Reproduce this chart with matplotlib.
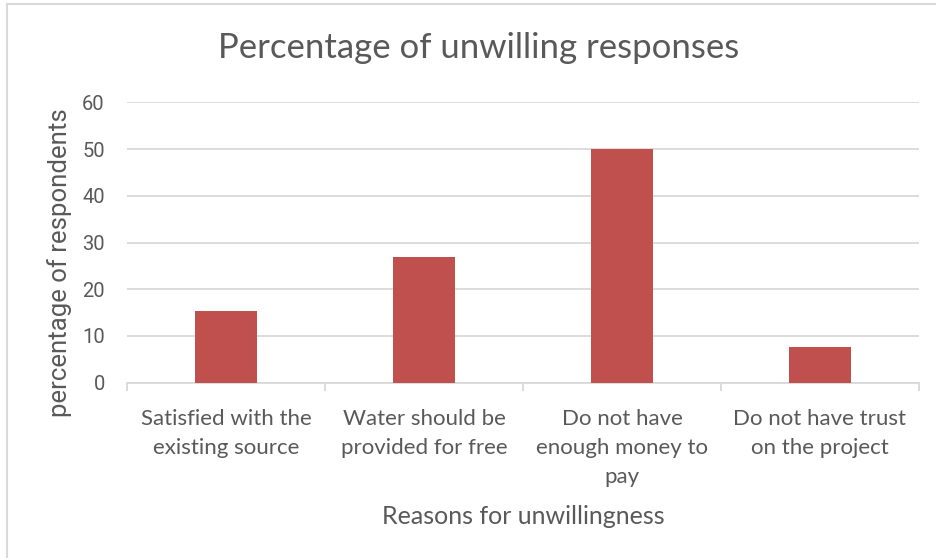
import matplotlib
matplotlib.use("Agg")
import matplotlib.pyplot as plt
from matplotlib.lines import Line2D

categories = [
    "Satisfied with the\nexisting source",
    "Water should be\nprovided for free",
    "Do not have\nenough money to\npay",
    "Do not have trust\non the project",
]
values = [15.38, 26.92, 50.0, 7.69]
y_ticks = [0, 10, 20, 30, 40, 50, 60]

title = "Percentage of unwilling responses"
x_title = "Reasons for unwillingness"
y_title = "percentage of respondents"

TEXT = "#595959"
GRID = "#D9D9D9"
BAR = "#C0504D"
label_font = ["Lato", "DejaVu Sans"]
num_font = ["Roboto", "DejaVu Sans"]

W, H = 937, 558
fig = plt.figure(figsize=(W / 100, H / 100), dpi=100)
fig.patch.set_facecolor("white")

L, R, B, T = 127, 919, 382.7, 102.3
ax = fig.add_axes([L / W, 1 - B / H, (R - L) / W, (B - T) / H])

x = list(range(len(categories)))
ax.bar(x, values, width=0.31, color=BAR, zorder=3)
ax.set_xlim(-0.5, len(categories) - 0.5)
ax.set_ylim(0, 60)
ax.set_yticks(y_ticks)
ax.set_yticklabels([str(v) for v in y_ticks], color=TEXT, fontsize=14.5,
                   family=num_font)
ax.yaxis.grid(True, color=GRID, linewidth=1.3, zorder=0)
ax.tick_params(axis="y", length=0, pad=16)

ax.set_xticks(x)
ax.set_xticklabels(categories, color=TEXT, fontsize=16, family=label_font,
                   linespacing=1.55, va="top")
ax.set_xticks([i - 0.5 for i in range(len(categories) + 1)], minor=True)
ax.tick_params(axis="x", which="major", length=0, pad=19)
ax.tick_params(axis="x", which="minor", length=6, color=GRID, width=1.3)

for s in ["top", "right", "left"]:
    ax.spines[s].set_visible(False)
ax.spines["bottom"].set_color(GRID)
ax.spines["bottom"].set_linewidth(1.3)

fig.text(479 / W, 1 - 48 / H, title, ha="center", va="center",
         color=TEXT, fontsize=25, family=label_font)
fig.text(523 / W, 1 - 517 / H, x_title, ha="center", va="center",
         color=TEXT, fontsize=18, family=label_font)
fig.text(60 / W, 1 - 263 / H, y_title, ha="center", va="center",
         rotation=90, color=TEXT, fontsize=18.5, family=num_font)

# chart frame: visible on the left and top edges
fig.add_artist(Line2D([7 / W, 7 / W], [0, 1 - 4 / H], transform=fig.transFigure,
                      color=GRID, linewidth=1.5))
fig.add_artist(Line2D([7 / W, 1], [1 - 4 / H, 1 - 4 / H], transform=fig.transFigure,
                      color=GRID, linewidth=1.5))

fig.savefig("out.png", dpi=100, facecolor="white")
